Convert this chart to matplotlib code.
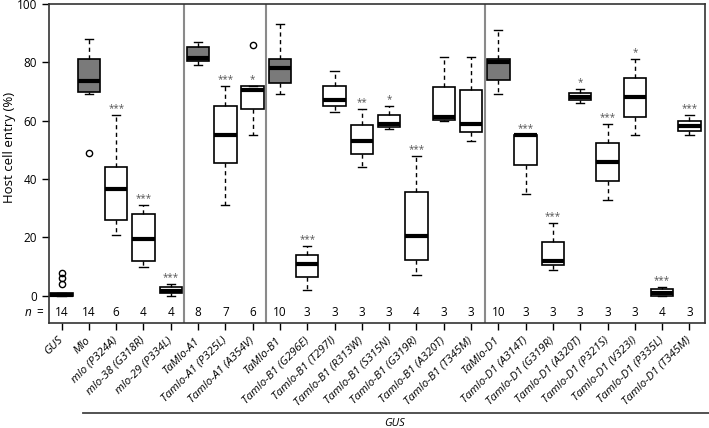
import matplotlib
matplotlib.use('Agg')
import matplotlib.pyplot as plt
from matplotlib.lines import Line2D

# データ
labels = ['GUS', 'Mlo', 'mlo (P324A)', 'mlo-38 (G318R)', 'mlo-29 (P334L)',
          'TaMlo-A1', 'Tamlo-A1 (P325L)', 'Tamlo-A1 (A354V)',
          'TaMlo-B1', 'Tamlo-B1 (G296E)', 'Tamlo-B1 (T297I)', 'Tamlo-B1 (R313W)',
          'Tamlo-B1 (S315N)', 'Tamlo-B1 (G319R)', 'Tamlo-B1 (A320T)', 'Tamlo-B1 (T345M)',
          'TaMlo-D1', 'Tamlo-D1 (A314T)', 'Tamlo-D1 (G319R)', 'Tamlo-D1 (A320T)',
          'Tamlo-D1 (P321S)', 'Tamlo-D1 (V323I)', 'Tamlo-D1 (P335L)', 'Tamlo-D1 (T345M)']
whislo = [0, 69, 21, 10, 0, 79, 31, 55, 69, 2, 63, 44, 57, 7, 60, 53,
          69, 35, 9, 66, 33, 55, 0, 55]
q1 = [0, 70, 26, 12, 1, 80.4, 45.4, 64, 73, 6.5, 65, 48.5, 58, 12.4, 60.4, 56,
      74, 45, 10.5, 67, 39.5, 61.4, 0, 56.5]
med = [0.4, 73.6, 36.5, 19.5, 1.8, 81.5, 55, 70.5, 78, 11, 67, 53, 59, 20.5, 61.2, 59,
       80, 55, 12, 68, 46, 68, 1.1, 58.2]
q3 = [1.1, 81, 44, 28, 3, 85.4, 65, 72, 81, 14, 72, 58.6, 62, 35.5, 71.5, 70.5,
      81, 55, 18.5, 69.5, 52.5, 74.5, 2.4, 60]
whishi = [1.1, 88, 62, 31, 4, 87, 72, 72, 93, 17, 77, 64, 65, 48, 82, 82,
          91, 55, 25, 71, 59, 81, 3, 62]
fliers = [[4, 6, 8], [49], [], [], [], [], [], [86], [], [], [], [], [], [], [], [],
          [], [], [], [], [], [], [], []]
n_vals = [14, 14, 6, 4, 4, 8, 7, 6, 10, 3, 3, 3, 3, 4, 3, 3, 10, 3, 3, 3, 3, 3, 4, 3]
stars = ['', '', '***', '***', '***', '', '***', '*', '', '***', '', '**', '*', '***', '', '',
         '', '***', '***', '*', '***', '*', '***', '***']
filled = ['TaMlo-A1', 'TaMlo-B1', 'TaMlo-D1', 'Mlo']
separators = [5.5, 8.5, 16.5]

plt.rcParams['font.family'] = ['Open Sans', 'DejaVu Sans']

fig = plt.figure(figsize=(7.09, 4.28), dpi=100)
ax = fig.add_axes([49 / 709, 1 - 323 / 428, (705 - 49) / 709, (323 - 4) / 428])

pos = list(range(1, len(labels) + 1))
stats = []
for i, lab in enumerate(labels):
    stats.append(dict(label=lab, whislo=whislo[i], q1=q1[i], med=med[i],
                      q3=q3[i], whishi=whishi[i], fliers=fliers[i]))

bp = ax.bxp(stats, positions=pos, widths=0.82, patch_artist=True, capwidths=0.3,
            boxprops=dict(lw=1.2, edgecolor='black'),
            medianprops=dict(color='black', lw=3, solid_capstyle='butt'),
            whiskerprops=dict(ls=(0, (3, 2.5)), lw=1, color='black'),
            capprops=dict(lw=1, color='black'),
            flierprops=dict(marker='o', mfc='none', mec='black', ms=4.5, mew=1))
for lab, box in zip(labels, bp['boxes']):
    box.set_facecolor('#7a7a7a' if lab in filled else 'white')

# 有意差マーク
for p, s, top in zip(pos, stars, whishi):
    if s:
        ax.text(p, top + 0.3, s, ha='center', va='bottom', fontsize=7, color='#555555')

# n数
ny = -5.8
ax.text(-0.23, ny, 'n', style='italic', ha='center', va='center', fontsize=8.5)
ax.text(0.2, ny, '=', ha='center', va='center', fontsize=8.5)
for p, n in zip(pos, n_vals):
    ax.text(p, ny, str(n), ha='center', va='center', fontsize=8.5)

for s in separators:
    ax.axvline(s, color='#8a8a8a', lw=1.5)

ax.set_xlim(0.54, 24.57)
ax.set_ylim(-9.3, 100)
ax.set_yticks([0, 20, 40, 60, 80, 100])
ax.set_xticks(pos)
ax.set_xticklabels(labels, rotation=45, ha='right', va='center', rotation_mode='anchor',
                   style='italic', fontsize=8.2)
for t in ax.get_xticklabels():
    t.set_y(-0.012)
ax.tick_params(axis='y', labelsize=8.5, length=5, width=1)
ax.tick_params(axis='x', length=5, width=1)
for sp in ax.spines.values():
    sp.set_linewidth(1.2)
    sp.set_color('#333333')
ax.set_ylabel('Host cell entry (%)', fontsize=9.5)
ax.yaxis.set_label_coords(-0.051, 0.55)

# 下部のGUSライン
fig.add_artist(Line2D([83 / 709, 1.0], [1 - 413 / 428] * 2, transform=fig.transFigure,
                      color='#444444', lw=1.3))
fig.text(395 / 709, 1 - 424 / 428, 'GUS', style='italic', ha='center', va='center',
         fontsize=8)

fig.savefig('out.png', dpi=100)
